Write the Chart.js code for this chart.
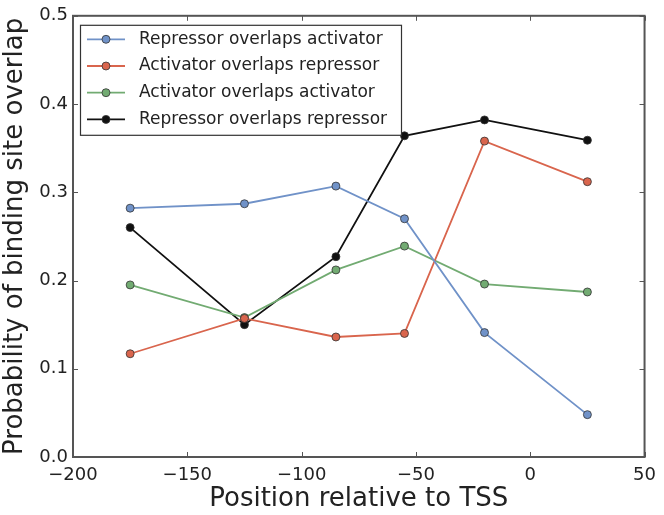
<!DOCTYPE html>
<html>
<head>
<meta charset="utf-8">
<script src="https://cdn.jsdelivr.net/npm/chart.js@4/dist/chart.umd.min.js"></script>
<style>
  html, body { margin: 0; padding: 0; background: #fff; }
  #wrap { width: 664px; height: 515px; }
</style>
</head>
<body>
<div id="wrap"><canvas id="overlapChart"></canvas></div>
<script>
const positions = [-175, -125, -85, -55, -20, 25];

const repOverlapsAct = [0.282, 0.287, 0.307, 0.270, 0.141, 0.048];
const actOverlapsRep = [0.117, 0.157, 0.136, 0.140, 0.358, 0.312];
const actOverlapsAct = [0.195, 0.158, 0.212, 0.239, 0.196, 0.187];
const repOverlapsRep = [0.260, 0.150, 0.227, 0.364, 0.382, 0.359];

const seriesNames = [
    'Repressor overlaps activator',
    'Activator overlaps repressor',
    'Activator overlaps activator',
    'Repressor overlaps repressor'
];
const seriesColors = ['#7092c8', '#d9654d', '#72ab72', '#111111'];

const xTicks = [-200, -150, -100, -50, 0, 50];
const yTicks = [0.0, 0.1, 0.2, 0.3, 0.4, 0.5];

const FONT = '"DejaVu Sans", Verdana, sans-serif';
const TEXT = '#222';

function toPoints(vals) {
    return positions.map((x, i) => ({ x: x, y: vals[i] }));
}

function makeSet(label, vals, color) {
    return {
        label: label,
        data: toPoints(vals),
        borderColor: color,
        backgroundColor: color,
        borderWidth: 1.8,
        pointRadius: 4,
        pointHoverRadius: 4,
        pointBorderColor: '#333',
        pointBorderWidth: 0.8,
        tension: 0
    };
}

const datasets = [
    makeSet(seriesNames[0], repOverlapsAct, seriesColors[0]),
    makeSet(seriesNames[1], actOverlapsRep, seriesColors[1]),
    makeSet(seriesNames[2], actOverlapsAct, seriesColors[2]),
    makeSet(seriesNames[3], repOverlapsRep, seriesColors[3])
];

// frame, inward ticks on all four sides, and boxed legend inside the plot
const framePlugin = {
    id: 'frame',
    afterDatasetsDraw(chart) {
        const ctx = chart.ctx;
        const a = chart.chartArea;
        const xs = chart.scales.x;
        const ys = chart.scales.y;
        ctx.save();
        ctx.strokeStyle = '#555';
        ctx.lineWidth = 1;
        xTicks.forEach(v => {
            const px = Math.round(xs.getPixelForValue(v)) + 0.5;
            ctx.beginPath();
            ctx.moveTo(px, a.bottom); ctx.lineTo(px, a.bottom - 5);
            ctx.moveTo(px, a.top); ctx.lineTo(px, a.top + 5);
            ctx.stroke();
        });
        yTicks.forEach(v => {
            const py = Math.round(ys.getPixelForValue(v)) + 0.5;
            ctx.beginPath();
            ctx.moveTo(a.left, py); ctx.lineTo(a.left + 5, py);
            ctx.moveTo(a.right, py); ctx.lineTo(a.right - 5, py);
            ctx.stroke();
        });
        ctx.lineWidth = 2;
        ctx.strokeRect(a.left, a.top, a.right - a.left, a.bottom - a.top);

        // legend
        const bx = a.left + 7, by = a.top + 9, bw = 321, bh = 110;
        ctx.fillStyle = '#fff';
        ctx.fillRect(bx, by, bw, bh);
        ctx.lineWidth = 1.2;
        ctx.strokeStyle = '#333';
        ctx.strokeRect(bx + 0.5, by + 0.5, bw, bh);
        ctx.font = '17px ' + FONT;
        ctx.textBaseline = 'middle';
        seriesNames.forEach((name, i) => {
            const ly = by + 14.5 + i * 26.7;
            ctx.strokeStyle = seriesColors[i];
            ctx.lineWidth = 1.8;
            ctx.beginPath();
            ctx.moveTo(bx + 7, ly); ctx.lineTo(bx + 45, ly);
            ctx.stroke();
            ctx.beginPath();
            ctx.arc(bx + 26, ly, 4, 0, Math.PI * 2);
            ctx.fillStyle = seriesColors[i];
            ctx.fill();
            ctx.lineWidth = 0.8;
            ctx.strokeStyle = '#333';
            ctx.stroke();
            ctx.fillStyle = TEXT;
            ctx.fillText(name, bx + 59, ly);
        });
        ctx.restore();
    }
};

new Chart(document.getElementById('overlapChart'), {
    type: 'line',
    data: { datasets: datasets },
    plugins: [framePlugin],
    options: {
        responsive: true,
        maintainAspectRatio: false,
        animation: false,
        layout: { padding: { top: 10, right: 18, left: 0, bottom: 0 } },
        plugins: {
            legend: { display: false },
            tooltip: { enabled: false }
        },
        scales: {
            x: {
                type: 'linear',
                min: -200,
                max: 50,
                afterBuildTicks(scale) {
                    scale.ticks = xTicks.map(v => ({ value: v }));
                },
                afterFit(scale) { scale.height = 58; },
                grid: { display: false, drawTicks: false },
                border: { display: false },
                ticks: {
                    padding: 8,
                    color: TEXT,
                    font: { family: FONT, size: 18 },
                    maxRotation: 0,
                    callback: v => String(v).replace('-', '\u2212')
                },
                title: {
                    display: true,
                    text: 'Position relative to TSS',
                    color: TEXT,
                    font: { family: FONT, size: 26 },
                    padding: { top: 0, bottom: 0 }
                }
            },
            y: {
                min: 0,
                max: 0.5,
                afterBuildTicks(scale) {
                    scale.ticks = yTicks.map(v => ({ value: v }));
                },
                afterFit(scale) { scale.width = 73; },
                grid: { display: false, drawTicks: false },
                border: { display: false },
                ticks: {
                    padding: 5,
                    color: TEXT,
                    font: { family: FONT, size: 18 },
                    callback: v => Number(v).toFixed(1)
                },
                title: {
                    display: true,
                    text: 'Probability of binding site overlap',
                    color: TEXT,
                    font: { family: FONT, size: 26 },
                    padding: { top: 0, bottom: 0 }
                }
            }
        }
    }
});
</script>
</body>
</html>
